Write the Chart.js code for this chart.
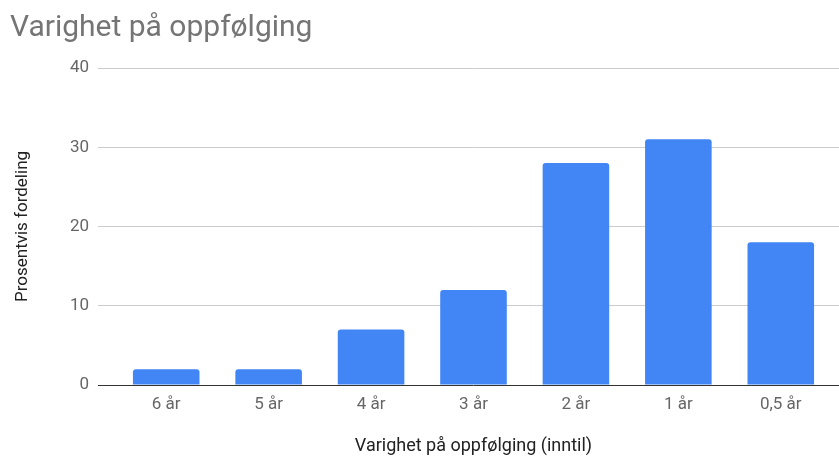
<!DOCTYPE html>
<html>
<head>
<meta charset="utf-8">
<script src="https://cdn.jsdelivr.net/npm/chart.js@4"></script>
<style>
html,body{margin:0;padding:0;background:#fff;}
#wrap{width:839px;height:457px;position:relative;}
</style>
</head>
<body>
<div id="wrap"><canvas id="c" width="839" height="457"></canvas></div>
<script>
const categories = ["6 år", "5 år", "4 år", "3 år", "2 år", "1 år", "0,5 år"];
const values = [2, 2, 7, 12, 28, 31, 18];
const yTicks = [0, 10, 20, 30, 40];

const gridColor = c => (c.tick && c.tick.value === 0) ? '#333333' : '#cccccc';

new Chart(document.getElementById('c'), {
  type: 'bar',
  data: {
    labels: categories,
    datasets: [{
      data: values,
      backgroundColor: '#4285F4',
      borderRadius: {topLeft: 3, topRight: 3, bottomLeft: 0, bottomRight: 0},
      borderSkipped: 'bottom',
      categoryPercentage: 1,
      barPercentage: 0.65
    }]
  },
  options: {
    responsive: false,
    animation: false,
    devicePixelRatio: 1,
    layout: {padding: {left: 10, right: 0, top: 0, bottom: 0}},
    plugins: {
      legend: {display: false},
      tooltip: {enabled: false},
      title: {
        display: true,
        text: 'Varighet på oppfølging',
        align: 'start',
        color: '#757575',
        font: {family: 'Roboto', size: 30, weight: 'normal'},
        padding: {top: 10, bottom: 22}
      }
    },
    scales: {
      x: {
        grid: {display: false, drawTicks: false},
        border: {display: false},
        ticks: {color: '#666666', font: {family: 'Roboto', size: 17}, padding: 10},
        title: {display: true, text: 'Varighet på oppfølging (inntil)', color: '#222222',
                font: {family: 'Roboto', size: 18}, padding: {top: 0, bottom: 0}},
        afterFit: s => { s.height = 72; }
      },
      y: {
        min: 0, max: 40,
        afterBuildTicks: s => { s.ticks = yTicks.map(v => ({value: v})); },
        grid: {color: gridColor, drawTicks: true, tickLength: 17},
        border: {display: false},
        ticks: {color: '#666666', font: {family: 'Roboto', size: 17}, padding: 9},
        title: {display: true, text: 'Prosentvis fordeling', color: '#222222',
                font: {family: 'Roboto', size: 17}, padding: {top: 3, bottom: 0}},
        afterFit: s => { s.width = 105; }
      },
      y2: {
        position: 'right',
        min: 0, max: 40,
        afterBuildTicks: s => { s.ticks = yTicks.map(v => ({value: v})); },
        grid: {color: gridColor, drawOnChartArea: false, drawTicks: true, tickLength: 7},
        border: {display: false},
        ticks: {display: false},
        afterFit: s => { s.width = 7; }
      }
    }
  }
});
</script>
</body>
</html>
